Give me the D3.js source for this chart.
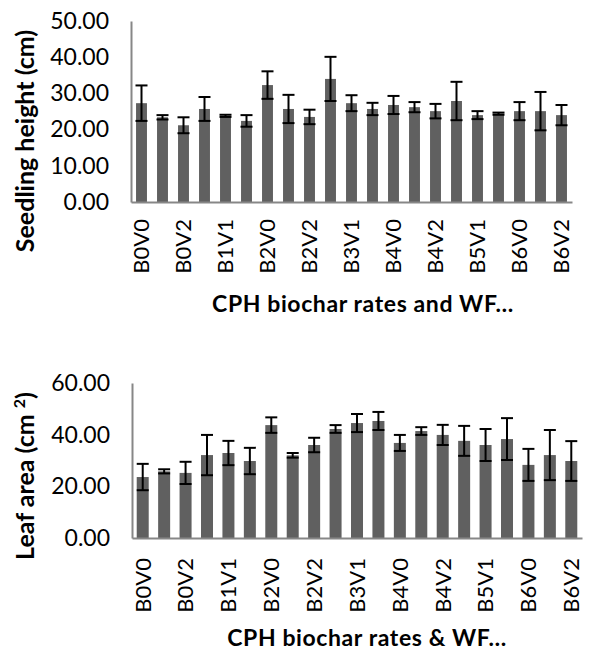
<!DOCTYPE html>
<html><head><meta charset="utf-8">
<script src="https://cdn.jsdelivr.net/npm/d3@7"></script>
<style>body{margin:0;background:#fff}svg{display:block}text{font-family:Lato,"Open Sans",sans-serif}</style>
</head><body>
<svg id="c" width="595" height="651"></svg>
<script>
const categories = ["B0V0","B0V1","B0V2","B1V0","B1V1","B1V2","B2V0","B2V1","B2V2","B3V0","B3V1","B3V2","B4V0","B4V1","B4V2","B5V0","B5V1","B5V2","B6V0","B6V1","B6V2"];
const heightValues = [27.3, 23.4, 21.2, 25.7, 23.8, 22.4, 32.3, 25.7, 23.5, 34.0, 27.3, 25.7, 26.8, 26.2, 25.1, 27.9, 24.0, 24.4, 25.1, 25.1, 24.0];
const heightErrors = [4.9, 0.6, 2.2, 3.3, 0.3, 1.6, 3.8, 3.9, 2.0, 6.1, 2.2, 1.7, 2.5, 1.4, 2.0, 5.3, 1.1, 0.3, 2.5, 5.3, 2.8];
const leafValues = [23.6, 25.8, 25.2, 32.1, 32.9, 29.8, 43.7, 32.0, 36.0, 42.2, 44.5, 45.3, 36.8, 41.4, 39.9, 37.6, 36.0, 38.3, 28.3, 32.1, 29.8];
const leafErrors = [5.1, 0.8, 4.3, 7.8, 4.7, 5.1, 3.0, 0.9, 2.8, 1.5, 3.5, 3.5, 3.1, 1.5, 3.9, 5.8, 6.2, 8.1, 6.2, 9.7, 7.7];
const heightTicks = [0, 10, 20, 30, 40, 50];
const leafTicks = [0, 20, 40, 60];

const svg = d3.select("#c");

function panel(cfg) {
  const g = svg.append("g");
  const x = d3.scaleBand().domain(categories).range([cfg.x0, cfg.x1]).paddingInner(cfg.pad).paddingOuter(cfg.pad/2);
  const y = d3.scaleLinear().domain([0, cfg.max]).range([cfg.yb, cfg.yt]);

  // y axis
  const ya = g.append("g").attr("transform", `translate(${cfg.x0},0)`)
    .call(d3.axisLeft(y).tickValues(cfg.ticks).tickSize(0).tickPadding(22).tickFormat(d3.format(".2f")));
  ya.select(".domain").attr("stroke", "#878787").attr("stroke-width", 2);
  ya.selectAll("text").attr("font-size", 23).attr("fill", "#000");

  // bars
  g.selectAll("rect.bar").data(categories).enter().append("rect")
    .attr("x", d => x(d)).attr("width", x.bandwidth())
    .attr("y", (d, i) => y(cfg.values[i]))
    .attr("height", (d, i) => y(0) - y(cfg.values[i]))
    .attr("fill", "#606060");

  // error bars
  const eb = g.selectAll("g.err").data(categories).enter().append("g")
    .attr("stroke", "#000").attr("stroke-width", 2);
  const cx = d => x(d) + x.bandwidth() / 2;
  eb.append("line").attr("x1", cx).attr("x2", cx)
    .attr("y1", (d, i) => y(cfg.values[i] + cfg.errors[i]))
    .attr("y2", (d, i) => y(cfg.values[i] - cfg.errors[i]));
  eb.append("line").attr("x1", d => cx(d) - 6).attr("x2", d => cx(d) + 6)
    .attr("y1", (d, i) => y(cfg.values[i] + cfg.errors[i]))
    .attr("y2", (d, i) => y(cfg.values[i] + cfg.errors[i]));
  eb.append("line").attr("x1", d => cx(d) - 6).attr("x2", d => cx(d) + 6)
    .attr("y1", (d, i) => y(cfg.values[i] - cfg.errors[i]))
    .attr("y2", (d, i) => y(cfg.values[i] - cfg.errors[i]));

  // x axis
  const xa = g.append("g").attr("transform", `translate(0,${cfg.yb})`)
    .call(d3.axisBottom(x).tickValues(categories.filter((d, i) => i % 2 === 0)).tickSize(0).tickSizeOuter(0));
  xa.select(".domain").attr("stroke", "#878787").attr("stroke-width", 2);
  xa.selectAll("text").attr("font-size", 22).attr("fill", "#000")
    .attr("transform", "rotate(-90)").attr("text-anchor", "end")
    .attr("x", -cfg.labGap).attr("y", 0).attr("dy", "0.36em");

  // titles
  g.append("text").attr("x", cfg.xtX).attr("y", cfg.xtY).attr("text-anchor", "middle")
    .attr("font-size", 23).attr("letter-spacing", 0.6).attr("font-weight", "bold").text(cfg.xTitle);
  const yt = g.append("text").attr("transform", `translate(${cfg.ytX},${cfg.ytY}) rotate(-90)`)
    .attr("text-anchor", "middle").attr("dy", "0.36em")
    .attr("font-size", 25).attr("font-weight", "bold");
  cfg.yTitle(yt);
}

panel({x0: 131, x1: 572, yb: 202, yt: 21, max: 50, pad: 0.48, ticks: heightTicks,
  values: heightValues, errors: heightErrors, labGap: 17,
  xTitle: "CPH biochar rates and WF\u2026", xtX: 363, xtY: 312,
  ytX: 25, ytY: 141, yTitle: t => t.text("Seedling height (cm)")});

panel({x0: 132, x1: 582, yb: 538, yt: 383, max: 60, pad: 0.44, ticks: leafTicks,
  values: leafValues, errors: leafErrors, labGap: 20,
  xTitle: "CPH biochar rates & WF\u2026", xtX: 367, xtY: 646,
  ytX: 25, ytY: 476, yTitle: t => {
    t.append("tspan").text("Leaf area (cm ");
    t.append("tspan").attr("baseline-shift", "super").attr("font-size", 16).text("2");
    t.append("tspan").text(")");
  }});
</script>
</body></html>
